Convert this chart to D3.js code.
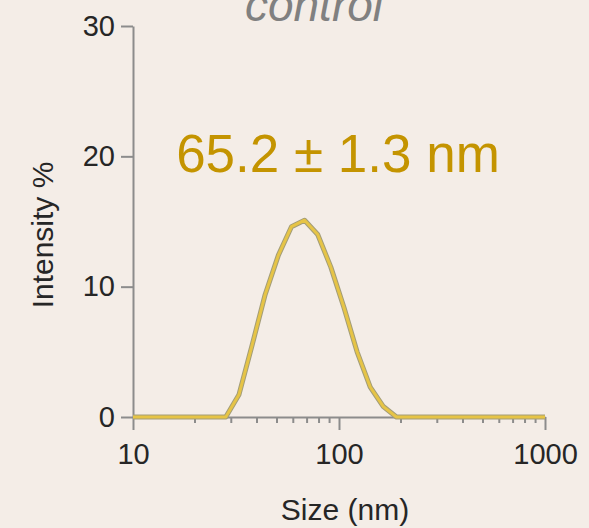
<!DOCTYPE html>
<html>
<head>
<meta charset="utf-8">
<script src="https://cdn.jsdelivr.net/npm/d3@7"></script>
<style>
  body { margin: 0; background: #f4ede7; }
  svg { display: block; font-family: "Liberation Sans", Arial, sans-serif; }
</style>
</head>
<body>
<div id="chart"></div>
<script>
// size distribution (intensity) for the control sample
var sizes = [8.721, 10.1, 11.7, 13.54, 15.69, 18.17, 21.04, 24.36, 28.21, 32.67, 37.84, 43.82,
             50.75, 58.77, 68.06, 78.82, 91.28, 105.7, 122.4, 141.8, 164.2, 190.1, 220.2,
             255, 295.3, 342, 396.1, 458.7, 531.2, 615.1, 712.4, 825, 955.4, 1106];
var intensity = [0, 0, 0, 0, 0, 0, 0, 0, 0, 1.7, 5.5, 9.4,
                 12.4, 14.6, 15.1, 14.0, 11.5, 8.4, 5.0, 2.3, 0.8, 0, 0,
                 0, 0, 0, 0, 0, 0, 0, 0, 0, 0, 0];
var yTicks = [0, 10, 20, 30];
var xTicks = [10, 100, 1000];
var title = "control";
var note = "65.2 \u00b1 1.3 nm";

var W = 589, H = 528;
var margin = {top: 26, right: 44, bottom: 111, left: 133},
    width = W - margin.left - margin.right,
    height = H - margin.top - margin.bottom;

var svg = d3.select("#chart").append("svg")
    .attr("width", W)
    .attr("height", H);

svg.append("rect").attr("width", W).attr("height", H).attr("fill", "#f4ede7");

var g = svg.append("g")
    .attr("transform", "translate(" + margin.left + "," + margin.top + ")");

var x = d3.scaleLog().domain([10, 1000]).range([0, width]);
var y = d3.scaleLinear().domain([0, 30]).range([height, 0]);

var axisCol = "#8c8c8c";
var textCol = "#262626";

// minor ticks on the log axis
var minor = [];
[10, 100].forEach(function (d) {
  for (var k = 2; k <= 9; k++) minor.push(d * k);
});
g.append("g").selectAll("line").data(minor).enter().append("line")
  .attr("x1", function (d) { return x(d); })
  .attr("x2", function (d) { return x(d); })
  .attr("y1", height).attr("y2", height + 6)
  .attr("stroke", axisCol).attr("stroke-width", 2);

// x axis
var xAxis = g.append("g")
    .attr("transform", "translate(0," + height + ")")
    .call(d3.axisBottom(x).tickValues(xTicks).tickFormat(d3.format("d"))
      .tickSize(13).tickSizeOuter(0).tickPadding(13));
xAxis.select(".domain").attr("stroke", axisCol).attr("stroke-width", 2);
xAxis.selectAll(".tick line").attr("stroke", axisCol).attr("stroke-width", 2);
xAxis.selectAll("text").attr("font-size", 29).attr("fill", textCol)
  .attr("font-family", "Liberation Sans, Arial, sans-serif");

// y axis
var yAxis = g.append("g")
    .call(d3.axisLeft(y).tickValues(yTicks).tickSize(12).tickSizeOuter(0).tickPadding(6));
yAxis.select(".domain").attr("stroke", axisCol).attr("stroke-width", 2);
yAxis.selectAll(".tick line").attr("stroke", axisCol).attr("stroke-width", 2);
yAxis.selectAll("text").attr("font-size", 29).attr("fill", textCol)
  .attr("font-family", "Liberation Sans, Arial, sans-serif");

// curve
g.append("clipPath").attr("id", "clip")
  .append("rect").attr("x", 0).attr("y", -10).attr("width", width).attr("height", height + 20);

var pts = sizes.map(function (s, i) { return [s, intensity[i]]; });
var line = d3.line()
    .x(function (d) { return x(d[0]); })
    .y(function (d) { return y(d[1]); });

g.append("path").datum(pts)
  .attr("clip-path", "url(#clip)")
  .attr("d", line)
  .attr("fill", "none")
  .attr("stroke", "#a39d78")
  .attr("stroke-width", 5)
  .attr("stroke-linejoin", "round");
g.append("path").datum(pts)
  .attr("clip-path", "url(#clip)")
  .attr("d", line)
  .attr("fill", "none")
  .attr("stroke", "#e6c446")
  .attr("stroke-width", 3)
  .attr("stroke-linejoin", "round");

// labels
svg.append("text")
  .attr("x", 314).attr("y", 21)
  .attr("text-anchor", "middle")
  .attr("font-size", 46).attr("font-style", "italic")
  .attr("fill", "#808080")
  .text(title);

svg.append("text")
  .attr("x", 338).attr("y", 172)
  .attr("text-anchor", "middle")
  .attr("font-size", 53)
  .attr("fill", "#c49400")
  .text(note);

svg.append("text")
  .attr("transform", "translate(53," + 235 + ") rotate(-90)")
  .attr("text-anchor", "middle")
  .attr("font-size", 30)
  .attr("fill", textCol)
  .text("Intensity %");

svg.append("text")
  .attr("x", 345).attr("y", 520)
  .attr("text-anchor", "middle")
  .attr("font-size", 30)
  .attr("fill", textCol)
  .text("Size (nm)");
</script>
</body>
</html>
